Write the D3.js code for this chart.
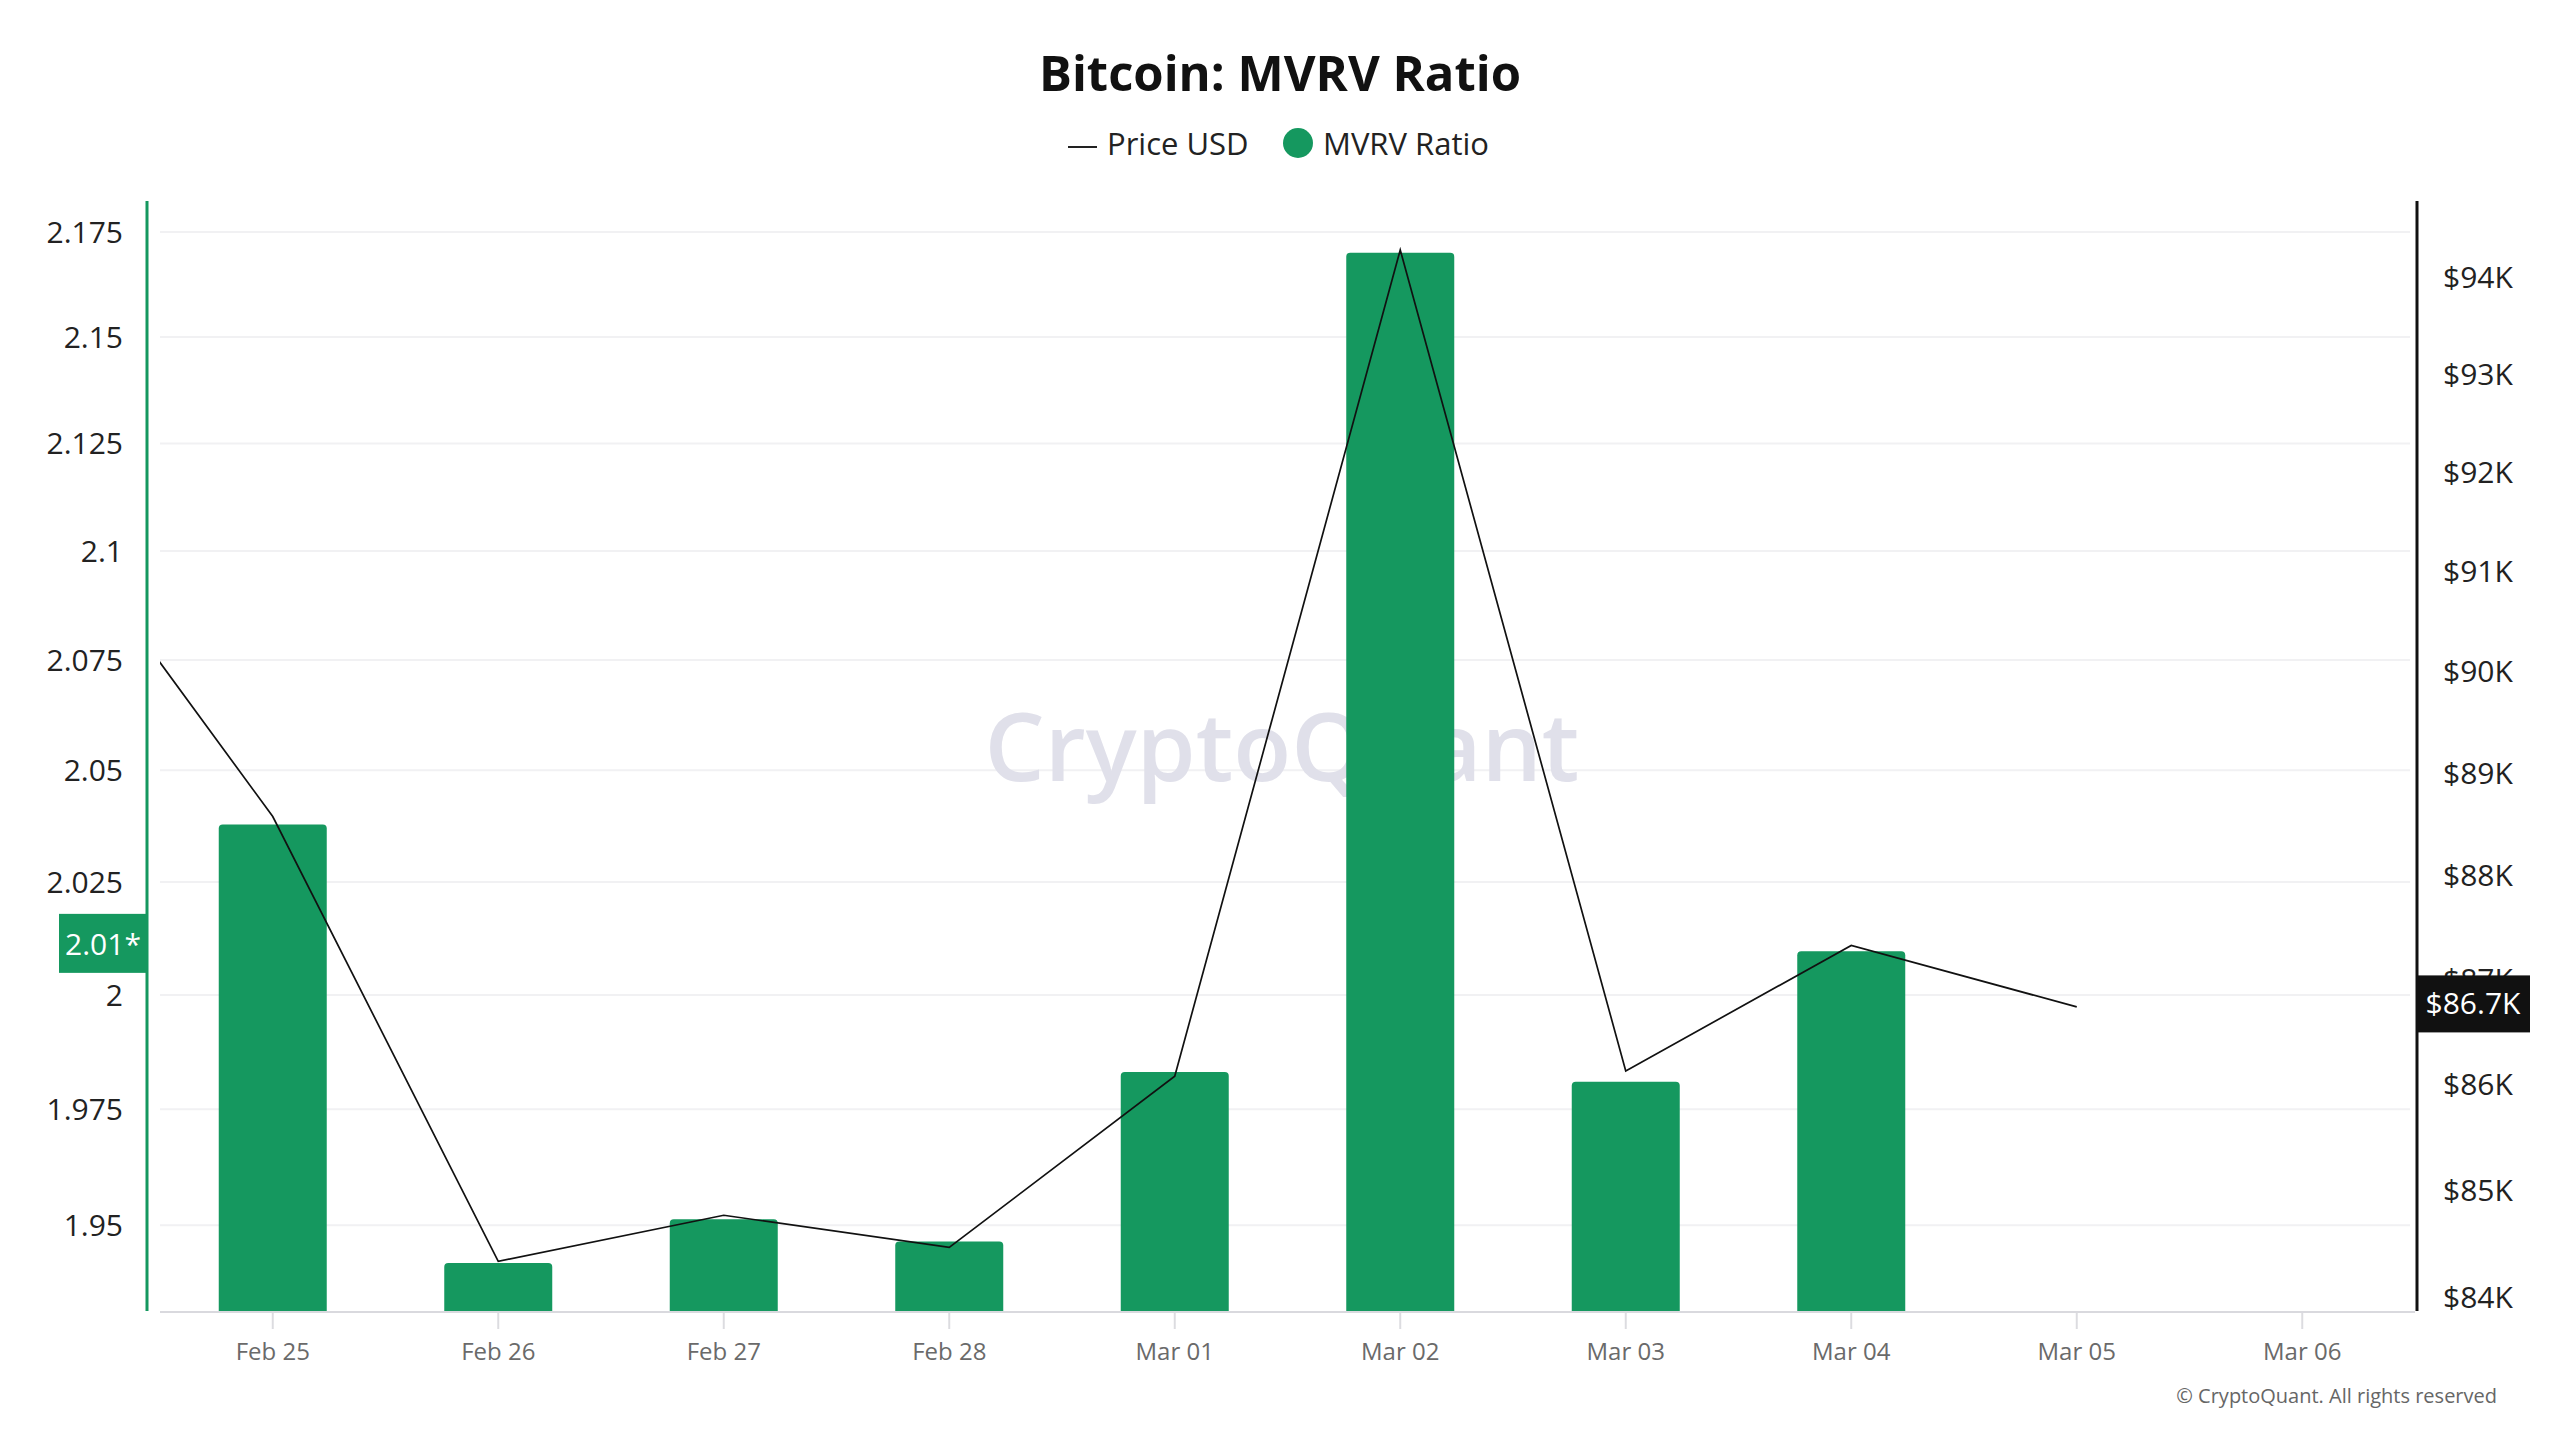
<!DOCTYPE html>
<html>
<head>
<meta charset="utf-8">
<script src="https://cdn.jsdelivr.net/npm/d3@7/dist/d3.min.js"></script>
<style>
  html, body { margin: 0; padding: 0; background: #ffffff; }
  svg { display: block; }
  text { font-family: "Open Sans", "Noto Sans", sans-serif; }
</style>
</head>
<body>
<svg id="chart" width="2560" height="1440"></svg>
<script>
// ---- data ----
const days = ["Feb 24","Feb 25","Feb 26","Feb 27","Feb 28","Mar 01","Mar 02","Mar 03","Mar 04","Mar 05","Mar 06"];
const tickDays = ["Feb 25","Feb 26","Feb 27","Feb 28","Mar 01","Mar 02","Mar 03","Mar 04","Mar 05","Mar 06"];
const mvrv  = [null, 2.0378, 1.9419, 1.9513, 1.9465, 1.9831, 2.1700, 1.9810, 2.0096, null, null];
const price = [91640, 88580, 84340, 84770, 84470, 86080, 94290, 86130, 87330, 86740, null];
const leftTicks  = [1.95, 1.975, 2, 2.025, 2.05, 2.075, 2.1, 2.125, 2.15, 2.175];
const rightTicks = [84000, 85000, 86000, 87000, 88000, 89000, 90000, 91000, 92000, 93000, 94000];
const mvrvLabel  = "2.01*";
const priceLabel = "$86.7K";
const mvrvLabelValue = 2.0096;
const priceLabelValue = 86740;

// ---- layout ----
const W = 2560, H = 1440;
const plotTop = 201, plotBottom = 1311;
const axisLeftX = 147, axisRightX = 2417;
const innerLeft = 160, innerRight = 2415;
const step = (innerRight - innerLeft) / tickDays.length;
const green = "#15985f";
const barW = 108;

const svg = d3.select("#chart");

const x = d3.scalePoint()
  .domain(days)
  .range([innerLeft - step / 2, innerRight - step / 2]);

const yL = d3.scaleLog().domain([1.9317, 2.1824]).range([plotBottom, plotTop]);
const yR = d3.scaleLog().domain([83880, 94800]).range([plotBottom, plotTop]);

// grid lines
svg.append("g").selectAll("line").data(leftTicks).join("line")
  .attr("x1", innerLeft).attr("x2", innerRight - 5)
  .attr("y1", d => yL(d)).attr("y2", d => yL(d))
  .attr("stroke", "#f1f1f3").attr("stroke-width", 2);

// watermark
svg.append("text")
  .attr("x", 1282).attr("y", 756)
  .attr("text-anchor", "middle").attr("dominant-baseline", "middle")
  .attr("font-size", 95).attr("font-weight", 600)
  .attr("fill", "#e0e0ea")
  .text("CryptoQuant");

// bars
const r = 4;
const barData = days.map((d, i) => ({ d, v: mvrv[i] })).filter(o => o.v != null);
svg.append("g").selectAll("path").data(barData).join("path")
  .attr("fill", green)
  .attr("d", o => {
    const cx = x(o.d), x0 = cx - barW / 2, x1 = cx + barW / 2, yt = yL(o.v), yb = plotBottom;
    return `M${x0},${yb} L${x0},${yt + r} Q${x0},${yt} ${x0 + r},${yt} L${x1 - r},${yt} Q${x1},${yt} ${x1},${yt + r} L${x1},${yb} Z`;
  });

// x baseline
svg.append("line")
  .attr("x1", innerLeft).attr("x2", innerRight)
  .attr("y1", plotBottom + 1).attr("y2", plotBottom + 1)
  .attr("stroke", "#d9d9de").attr("stroke-width", 2);

// x ticks + labels
const xg = svg.append("g");
xg.selectAll("line").data(tickDays).join("line")
  .attr("x1", d => x(d)).attr("x2", d => x(d))
  .attr("y1", plotBottom + 2).attr("y2", plotBottom + 18)
  .attr("stroke", "#dcdce0").attr("stroke-width", 2);
xg.selectAll("text").data(tickDays).join("text")
  .attr("x", d => x(d)).attr("y", 1354)
  .attr("text-anchor", "middle").attr("dominant-baseline", "middle")
  .attr("font-size", 24).attr("fill", "#6a6a6a")
  .text(d => d);

// price line (clipped to plot)
svg.append("clipPath").attr("id", "clip")
  .append("rect").attr("x", innerLeft).attr("y", 0).attr("width", innerRight - innerLeft + 2).attr("height", H);
const priceData = days.map((d, i) => ({ d, v: price[i] })).filter(o => o.v != null);
svg.append("path")
  .datum(priceData)
  .attr("clip-path", "url(#clip)")
  .attr("fill", "none").attr("stroke", "#111111").attr("stroke-width", 1.7)
  .attr("stroke-linejoin", "miter")
  .attr("d", d3.line().x(o => x(o.d)).y(o => yR(o.v)));

// left axis
svg.append("line")
  .attr("x1", axisLeftX).attr("x2", axisLeftX)
  .attr("y1", plotTop).attr("y2", plotBottom)
  .attr("stroke", green).attr("stroke-width", 3);
svg.append("g").selectAll("text").data(leftTicks).join("text")
  .attr("x", 123).attr("y", d => yL(d) + 3)
  .attr("text-anchor", "end").attr("dominant-baseline", "middle")
  .attr("font-size", 30).attr("fill", "#222222")
  .text(d => String(d));

// right axis
svg.append("line")
  .attr("x1", axisRightX).attr("x2", axisRightX)
  .attr("y1", plotTop).attr("y2", plotBottom)
  .attr("stroke", "#111111").attr("stroke-width", 3);
svg.append("g").selectAll("text").data(rightTicks).join("text")
  .attr("x", 2443).attr("y", d => yR(d) + 2)
  .attr("text-anchor", "start").attr("dominant-baseline", "middle")
  .attr("font-size", 30).attr("fill", "#222222")
  .text(d => "$" + (d / 1000) + "K");

// current value labels
const ly = yL(mvrvLabelValue) - 8;
svg.append("rect").attr("x", 59).attr("y", ly - 29.5).attr("width", axisLeftX - 59).attr("height", 59).attr("fill", green);
svg.append("text").attr("x", 103).attr("y", ly + 4)
  .attr("text-anchor", "middle").attr("dominant-baseline", "middle")
  .attr("font-size", 30).attr("fill", "#ffffff").text(mvrvLabel);

const ry = yR(priceLabelValue) - 3;
svg.append("rect").attr("x", axisRightX).attr("y", ry - 28.5).attr("width", 113).attr("height", 57).attr("fill", "#111111");
svg.append("text").attr("x", axisRightX + 56).attr("y", ry + 2)
  .attr("text-anchor", "middle").attr("dominant-baseline", "middle")
  .attr("font-size", 30).attr("fill", "#ffffff").text(priceLabel);

// title
svg.append("text")
  .attr("x", 1280).attr("y", 78)
  .attr("text-anchor", "middle").attr("dominant-baseline", "middle")
  .attr("font-size", 49).attr("font-weight", 700).attr("fill", "#111111")
  .text("Bitcoin: MVRV Ratio");

// legend
const lg = svg.append("g");
lg.append("line").attr("x1", 1068).attr("x2", 1097).attr("y1", 147).attr("y2", 147)
  .attr("stroke", "#222222").attr("stroke-width", 2);
lg.append("text").attr("x", 1107).attr("y", 147)
  .attr("dominant-baseline", "middle").attr("font-size", 31).attr("fill", "#222222")
  .text("Price USD");
lg.append("circle").attr("cx", 1298).attr("cy", 143).attr("r", 15).attr("fill", green);
lg.append("text").attr("x", 1323).attr("y", 147)
  .attr("dominant-baseline", "middle").attr("font-size", 31).attr("fill", "#222222")
  .text("MVRV Ratio");

// footer
svg.append("text")
  .attr("x", 2497).attr("y", 1398)
  .attr("text-anchor", "end").attr("dominant-baseline", "middle")
  .attr("font-size", 20).attr("fill", "#666666")
  .text("© CryptoQuant. All rights reserved");
</script>
</body>
</html>
